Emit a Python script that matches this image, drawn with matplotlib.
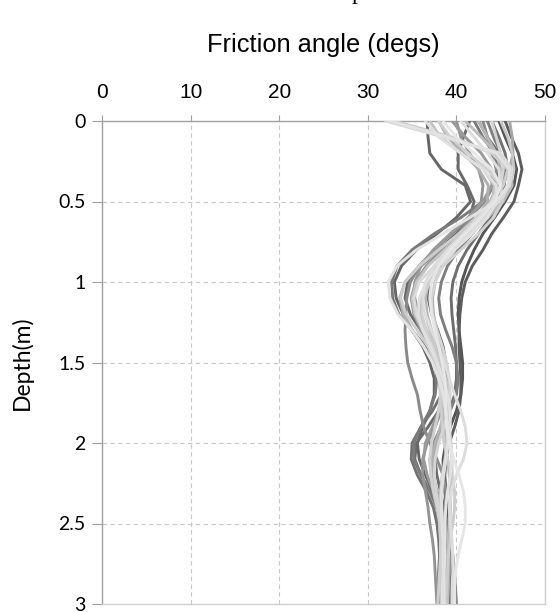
import matplotlib
matplotlib.use("Agg")
import matplotlib.pyplot as plt

# depth levels (m), every 0.1 m down to 3 m
depth = [0.0, 0.1, 0.2, 0.3, 0.4, 0.5, 0.6, 0.7, 0.8, 0.9, 1.0, 1.1, 1.2, 1.3, 1.4, 1.5,
         1.6, 1.7, 1.8, 1.9, 2.0, 2.1, 2.2, 2.3, 2.4, 2.5, 2.6, 2.7, 2.8, 2.9, 3.0]

# friction angle (degs), one list per realisation
prof_a = [45.5, 46.2, 47.0, 47.4, 47.0, 46.5, 45.3, 44.0, 43.0, 41.8, 41.0, 40.6, 40.4, 40.3, 40.3, 40.4,
          40.5, 40.5, 40.3, 39.8, 39.2, 38.8, 38.7, 38.8, 39.0, 39.2, 39.3, 39.3, 39.3, 39.2, 39.2]
prof_b = [44.8, 45.5, 46.3, 46.8, 46.5, 45.5, 44.3, 43.0, 42.0, 41.2, 40.6, 40.3, 40.2, 40.3, 40.5, 40.7,
          40.7, 40.5, 40.0, 39.3, 38.8, 38.5, 38.5, 38.7, 38.9, 39.0, 39.1, 39.2, 39.3, 39.4, 39.5]
prof_c = [36.7, 36.8, 37.0, 38.3, 41.0, 41.6, 40.0, 37.8, 35.5, 33.8, 33.0, 33.2, 34.0, 35.0, 36.2, 37.0,
          37.5, 37.5, 37.0, 36.2, 35.6, 35.8, 36.5, 37.3, 37.8, 38.0, 38.1, 38.1, 38.0, 38.0, 38.0]
prof_d = [41.5, 40.8, 40.2, 40.2, 41.2, 42.0, 41.5, 40.0, 38.0, 36.0, 34.5, 34.2, 34.8, 36.0, 37.2, 38.0,
          38.5, 38.5, 38.0, 36.8, 35.5, 35.3, 36.0, 37.0, 37.8, 38.2, 38.3, 38.3, 38.2, 38.2, 38.3]
prof_e = [32.0, 38.5, 45.0, 46.3, 46.0, 44.8, 43.2, 41.5, 39.5, 37.5, 35.8, 35.2, 35.5, 36.3, 37.2, 37.8,
          38.2, 38.5, 38.8, 39.0, 39.0, 38.8, 38.5, 38.3, 38.3, 38.4, 38.5, 38.5, 38.5, 38.5, 38.5]
prof_f = [32.5, 39.0, 44.5, 46.0, 45.8, 44.5, 41.5, 38.5, 35.5, 33.3, 32.3, 32.5, 33.4, 35.0, 36.3, 37.3,
          38.0, 38.5, 38.8, 39.0, 39.3, 39.5, 39.3, 39.0, 38.8, 38.7, 38.7, 38.7, 38.6, 38.6, 38.6]
prof_g = [33.0, 39.5, 44.0, 45.8, 45.3, 44.0, 42.3, 40.3, 38.0, 35.8, 34.2, 33.7, 34.3, 35.6, 36.8, 37.6,
          38.0, 38.2, 38.3, 38.4, 38.6, 39.0, 39.5, 39.8, 39.8, 39.6, 39.3, 39.1, 39.0, 38.9, 38.8]
prof_h = [42.0, 43.0, 44.2, 44.8, 44.3, 43.0, 40.5, 37.5, 35.0, 33.3, 32.7, 32.8, 33.5, 35.0, 36.5, 37.5,
          37.8, 37.6, 37.0, 36.0, 35.2, 35.2, 36.0, 37.0, 37.8, 38.3, 38.5, 38.5, 38.4, 38.3, 38.3]
prof_i = [43.0, 43.5, 44.0, 44.5, 44.2, 43.2, 41.5, 39.5, 37.5, 35.8, 34.8, 34.4, 34.3, 34.2, 34.3, 34.5,
          35.0, 35.6, 35.9, 36.3, 37.0, 37.8, 38.5, 38.8, 38.8, 38.6, 38.4, 38.3, 38.2, 38.2, 38.2]
prof_j = [40.5, 42.0, 43.5, 44.8, 45.0, 44.0, 42.5, 40.8, 39.0, 37.5, 36.5, 36.2, 36.5, 37.2, 38.0, 38.6,
          39.2, 39.8, 40.5, 41.0, 41.2, 40.8, 40.0, 39.4, 39.2, 39.3, 39.5, 39.6, 39.6, 39.5, 39.5]
prof_k = [38.5, 40.0, 42.0, 44.0, 45.0, 44.3, 42.8, 41.0, 39.3, 38.0, 37.2, 37.0, 37.2, 37.6, 38.0, 38.4,
          38.7, 38.8, 38.8, 38.9, 39.2, 39.7, 40.3, 40.8, 41.0, 41.0, 40.6, 40.2, 39.9, 39.8, 39.8]
prof_m = [44.0, 44.8, 45.5, 45.8, 45.3, 44.2, 42.8, 41.0, 39.2, 37.8, 37.0, 36.8, 37.2, 37.9, 38.5, 38.8,
          38.8, 38.3, 37.3, 36.0, 35.0, 34.9, 35.6, 36.6, 37.4, 37.8, 38.0, 38.1, 38.2, 38.2, 38.2]
prof_n = [39.5, 41.0, 42.8, 44.0, 44.0, 43.0, 41.3, 39.3, 37.4, 36.0, 35.3, 35.3, 35.8, 36.6, 37.4, 38.0,
          38.3, 38.3, 38.0, 37.3, 36.5, 36.3, 36.7, 37.4, 38.0, 38.3, 38.5, 38.5, 38.4, 38.4, 38.4]
prof_o = [42.5, 43.5, 44.5, 45.0, 44.7, 43.8, 42.5, 40.8, 39.0, 37.6, 36.8, 36.5, 36.7, 37.2, 37.8, 38.3,
          38.6, 38.8, 38.9, 38.9, 38.9, 38.8, 38.6, 38.4, 38.3, 38.3, 38.4, 38.5, 38.6, 38.6, 38.6]
prof_p = [37.0, 38.2, 40.5, 43.0, 44.3, 44.0, 42.7, 40.8, 38.7, 36.8, 35.5, 35.0, 35.3, 36.2, 37.3, 38.2,
          38.8, 39.2, 39.3, 39.2, 39.0, 38.7, 38.4, 38.2, 38.1, 38.1, 38.2, 38.3, 38.3, 38.3, 38.3]
prof_q = [44.0, 44.5, 45.0, 45.3, 45.0, 44.0, 42.8, 41.3, 39.8, 38.5, 37.6, 37.2, 37.3, 37.8, 38.4, 38.9,
          39.2, 39.3, 39.1, 38.6, 38.0, 37.6, 37.5, 37.7, 38.0, 38.3, 38.5, 38.6, 38.6, 38.6, 38.6]
prof_r = [46.0, 46.3, 46.4, 46.0, 45.2, 44.0, 42.6, 41.0, 39.5, 38.3, 37.6, 37.3, 37.4, 37.8, 38.3, 38.8,
          39.1, 39.2, 39.0, 38.5, 37.8, 37.4, 37.4, 37.8, 38.3, 38.7, 39.0, 39.2, 39.2, 39.1, 39.0]
prof_s = [43.5, 44.2, 45.0, 45.5, 45.2, 44.5, 43.3, 41.8, 40.2, 39.0, 38.3, 38.0, 38.2, 38.8, 39.5, 40.0,
          40.2, 40.0, 39.3, 38.3, 37.4, 37.0, 37.2, 37.8, 38.5, 39.0, 39.3, 39.6, 39.8, 39.9, 40.0]
prof_t = [36.5, 38.0, 40.5, 43.0, 44.5, 44.5, 43.5, 41.8, 39.8, 38.0, 36.6, 35.8, 35.7, 36.2, 37.0, 37.8,
          38.5, 39.0, 39.3, 39.3, 39.1, 38.8, 38.5, 38.3, 38.3, 38.4, 38.5, 38.5, 38.5, 38.4, 38.4]
prof_u = [41.0, 42.8, 44.5, 46.0, 46.3, 45.3, 43.5, 41.5, 39.5, 37.8, 36.6, 36.0, 36.0, 36.5, 37.2, 37.8,
          38.2, 38.4, 38.5, 38.6, 38.8, 39.0, 39.2, 39.3, 39.3, 39.2, 39.1, 39.0, 39.0, 39.0, 39.0]
prof_v = [40.0, 40.5, 41.5, 42.5, 43.0, 42.8, 41.8, 40.2, 38.3, 36.6, 35.4, 34.9, 35.2, 36.0, 37.0, 37.8,
          38.3, 38.5, 38.3, 37.6, 36.7, 36.2, 36.2, 36.5, 36.8, 37.0, 37.3, 37.5, 37.6, 37.7, 37.8]
prof_w = [38.0, 39.3, 41.3, 43.5, 45.0, 45.2, 44.2, 42.5, 40.5, 38.5, 37.0, 36.2, 36.1, 36.6, 37.3, 37.9,
          38.2, 38.2, 38.0, 37.6, 37.2, 37.0, 37.1, 37.4, 37.8, 38.1, 38.2, 38.2, 38.1, 38.0, 37.9]
prof_x = [42.5, 43.5, 44.8, 45.5, 45.4, 44.8, 43.8, 42.5, 41.2, 40.2, 39.6, 39.4, 39.5, 39.7, 39.9, 40.0,
          40.0, 39.8, 39.2, 38.4, 37.8, 37.6, 37.8, 38.2, 38.6, 38.9, 39.0, 39.0, 39.0, 39.1, 39.2]
prof_y = [45.0, 45.8, 46.3, 46.5, 46.0, 44.8, 43.0, 41.0, 39.0, 37.5, 36.6, 36.3, 36.5, 37.0, 37.6, 38.1,
          38.5, 38.8, 39.0, 39.2, 39.4, 39.5, 39.5, 39.4, 39.3, 39.3, 39.4, 39.6, 39.7, 39.8, 39.8]
prof_z = [38.0, 39.0, 40.8, 42.5, 43.6, 43.5, 42.3, 40.3, 38.0, 35.8, 34.2, 33.6, 34.0, 35.0, 36.3, 37.4,
          38.2, 38.6, 38.6, 38.2, 37.6, 37.2, 37.2, 37.6, 38.0, 38.4, 38.6, 38.7, 38.7, 38.6, 38.5]

profiles = [prof_a, prof_b, prof_c, prof_d, prof_e, prof_f, prof_g, prof_h, prof_i, prof_j, prof_k, prof_m,
            prof_n, prof_o, prof_p, prof_q, prof_r, prof_s, prof_t, prof_u, prof_v, prof_w, prof_x, prof_y,
            prof_z]
shades = ["#5c5c5c", "#555555", "#666666", "#6a6a6a", "#dadada", "#e2e2e2", "#cccccc", "#7a7a7a", "#8a8a8a",
          "#dddddd", "#e6e6e6", "#727272", "#9a9a9a", "#b5b5b5", "#c4c4c4", "#d4d4d4", "#a8a8a8", "#7e7e7e",
          "#e0e0e0", "#bbbbbb", "#949494", "#d0d0d0", "#6e6e6e", "#c8c8c8", "#b0b0b0"]

xticks = [0, 10, 20, 30, 40, 50]
xtick_labels = ["0", "10", "20", "30", "40", "50"]
yticks = [0, 0.5, 1, 1.5, 2, 2.5, 3]
ytick_labels = ["0", "0.5", "1", "1.5", "2", "2.5", "3"]

fig = plt.figure(figsize=(5.6, 6.12), dpi=100)
ax = fig.add_axes([102 / 560, 1 - 604 / 612, 443 / 560, 483 / 612])

# darker shades first so the light ones sit on top, like the original
order = sorted(range(len(profiles)), key=lambda i: shades[i])
for i in order:
    ax.plot(profiles[i], depth, color=shades[i], lw=2.1, solid_joinstyle="round",
            solid_capstyle="round", zorder=3)

ax.set_xlim(0, 50)
ax.set_ylim(3, 0)
ax.xaxis.tick_top()
ax.xaxis.set_label_position("top")
ax.set_xticks(xticks)
ax.set_xticklabels(xtick_labels, fontsize=15, family="Liberation Sans")
ax.set_yticks(yticks)
ax.set_yticklabels(ytick_labels, fontsize=14, family="Lato")
ax.tick_params(axis="x", direction="out", length=4, width=0.8, color="#a0a0a0", pad=10)
ax.tick_params(axis="y", direction="out", length=7, width=0.8, color="#a0a0a0", pad=5)
ax.set_xlabel("Friction angle (degs)", fontsize=18.3, family="Liberation Sans", labelpad=22)
ax.set_ylabel("Depth(m)", fontsize=16.5, family="Lato", labelpad=18)

ax.grid(True, ls=(0, (4, 3)), color="#c8c8c8", lw=0.8, zorder=0)
for side, col in [("top", "#a0a0a0"), ("left", "#a0a0a0"), ("right", "#d0d0d0"), ("bottom", "#d0d0d0")]:
    ax.spines[side].set_color(col)
    ax.spines[side].set_linewidth(1.0)

# fragment of the caption above the figure, cut off by the crop
fig.text(358 / 560, 1 + 1 / 612, "p", family="Liberation Serif", fontsize=17, ha="center", va="baseline")

fig.savefig("out.png", dpi=100)
